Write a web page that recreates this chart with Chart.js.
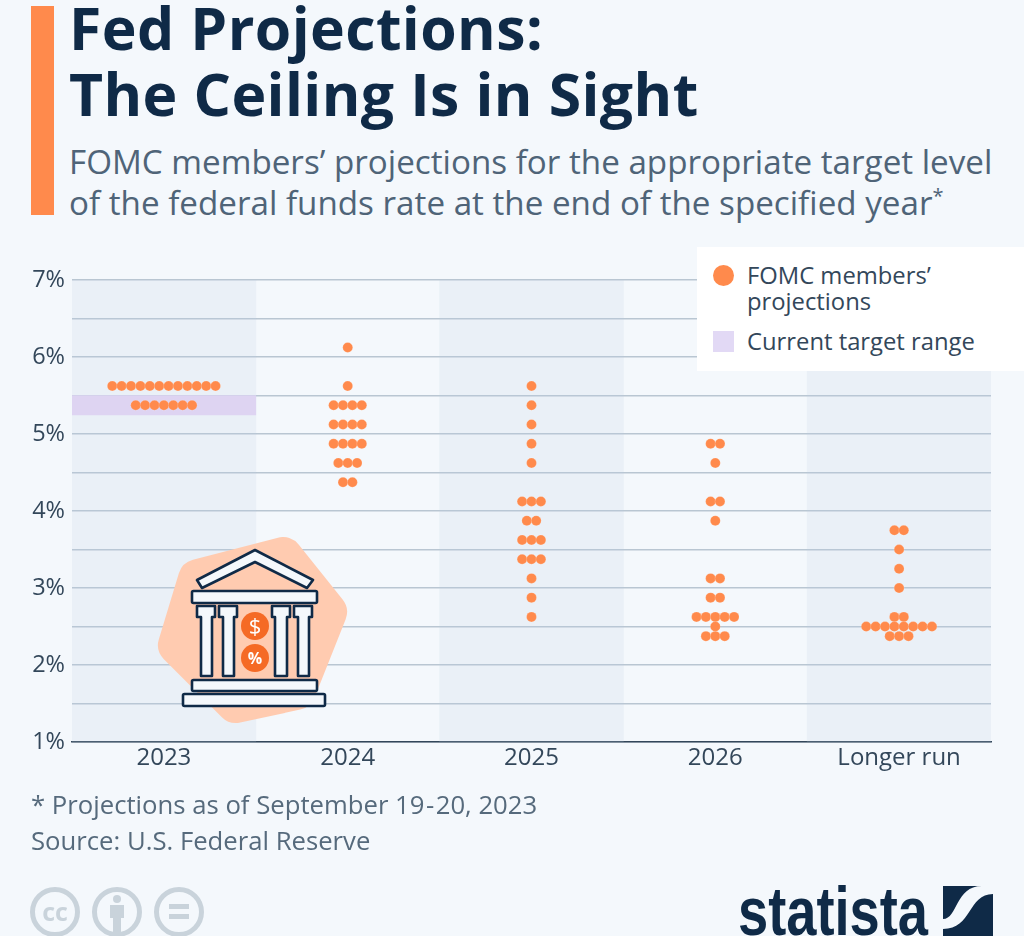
<!DOCTYPE html>
<html>
<head>
<meta charset="utf-8">
<script src="https://cdn.jsdelivr.net/npm/chart.js@4"></script>
<style>
    html, body { margin: 0; padding: 0; }
    body { width: 1024px; height: 936px; position: relative; overflow: hidden; background: #f4f8fc; font-family: "Open Sans", sans-serif; }
    .abs { position: absolute; white-space: nowrap; }
    #bar { left: 31px; top: 6px; width: 23px; height: 209px; background: #ff8a4c; }
    #title { left: 69px; top: -6px; font-size: 58.9px; line-height: 66px; font-weight: 700; color: #0f2a47; letter-spacing: 0.4px; }
    #subtitle { left: 69px; top: 141px; font-size: 33.2px; line-height: 41px; color: #4f6478; }
    #subtitle sup { font-size: 20px; line-height: 0; }
    #chartWrap { left: 0; top: 259px; width: 1024px; height: 523px; }
    #legend { left: 697px; top: 247px; width: 327px; height: 124px; background: #fff; color: #33475a; font-size: 23.8px; line-height: 26px; }
    #legend .dot { position: absolute; left: 16px; top: 18px; width: 21px; height: 21px; border-radius: 50%; background: #ff8a4c; }
    #legend .sq { position: absolute; left: 16px; top: 84px; width: 21px; height: 21px; background: #e2d9f5; }
    #legend .t1 { position: absolute; left: 50px; top: 15px; }
    #legend .t2 { position: absolute; left: 50px; top: 81px; }
    .foot { left: 31px; font-size: 25.7px; color: #566a7c; }
    svg.abs { left: 0; top: 0; }
</style>
</head>
<body>
<div id="bar" class="abs"></div>
<div id="title" class="abs">Fed Projections:<br>The Ceiling Is in Sight</div>
<div id="subtitle" class="abs">FOMC members’ projections for the appropriate target level<br>of the federal funds rate at the end of the specified year<sup>*</sup></div>

<div id="chartWrap" class="abs"><canvas id="dotChart" width="1024" height="523"></canvas></div>

<div id="legend" class="abs">
    <div class="dot"></div><div class="t1">FOMC members’<br>projections</div>
    <div class="sq"></div><div class="t2">Current target range</div>
</div>

<svg class="abs" width="1024" height="936" viewBox="0 0 1024 936">
    <!-- icone banque -->
    <polygon points="283,557 327,612 296,690 236,703 178,645 198,579" fill="#ffcbb0" stroke="#ffcbb0" stroke-width="40" stroke-linejoin="round"/>
    <g fill="#f4f8fc" stroke="#0f2a47" stroke-width="2.6" stroke-linejoin="round">
        <polygon points="197,580 255,550 313,580 307,588 255,562 202,588"/>
        <rect x="192" y="591" width="125" height="12" rx="1.5"/>
        <polygon points="197,606 215,606 215,617 212,617 212,676 201,676 201,617 197,617"/>
        <polygon points="219,606 237,606 237,617 234,617 234,676 223,676 223,617 219,617"/>
        <polygon points="272,606 290,606 290,617 287,617 287,676 275,676 275,617 272,617"/>
        <polygon points="294,606 312,606 312,617 309,617 309,676 298,676 298,617 294,617"/>
        <rect x="192" y="680" width="125" height="11" rx="1.5"/>
        <rect x="183" y="694" width="142" height="12" rx="1.5"/>
    </g>
    <circle cx="255" cy="626" r="14" fill="#f56a25"/>
    <circle cx="255" cy="658" r="14" fill="#f56a25"/>
    <text x="255" y="634" font-size="22" fill="#fff" text-anchor="middle" font-family="Open Sans">$</text>
    <text x="255" y="664" font-size="16" font-weight="700" fill="#fff" text-anchor="middle" font-family="Open Sans">%</text>

    <!-- licence CC -->
    <g fill="none" stroke="#c9d3db" stroke-width="5">
        <circle cx="55" cy="912" r="22.5"/>
        <circle cx="117" cy="912" r="22.5"/>
        <circle cx="179" cy="912" r="22.5"/>
    </g>
    <text x="55" y="921" font-size="25" font-weight="700" fill="#c9d3db" text-anchor="middle" font-family="Open Sans">cc</text>
    <g fill="#c9d3db">
        <circle cx="117" cy="899" r="4"/>
        <rect x="110" y="905" width="14" height="13"/>
        <rect x="113" y="918" width="8" height="14"/>
        <rect x="169" y="904" width="20" height="5"/>
        <rect x="169" y="914" width="20" height="5"/>
    </g>

    <!-- logo -->
    <text x="738" y="935" font-size="68" font-weight="700" fill="#0f2a47" font-family="Liberation Sans" textLength="190" lengthAdjust="spacingAndGlyphs">statista</text>
    <rect x="943" y="886" width="50" height="50" fill="#0f2a47"/>
    <path d="M993,886 V894 C968,894 972,929 943,929 V919 C958,919 955,886 982,886 Z" fill="#f4f8fc"/>
</svg>

<div class="abs foot" style="top: 787px;">* Projections as of September 19<span style="margin: 0 1.5px;">-</span>20, 2023</div>
<div class="abs foot" style="top: 823px;">Source: U.S. Federal Reserve</div>

<script>
const categories = ['2023', '2024', '2025', '2026', 'Longer run'];

// taux projetes et nombre de membres par taux
const levels2023 = [5.625, 5.375];
const counts2023 = [12, 7];
const levels2024 = [6.125, 5.625, 5.375, 5.125, 4.875, 4.625, 4.375];
const counts2024 = [1, 1, 4, 4, 4, 3, 2];
const levels2025 = [5.625, 5.375, 5.125, 4.875, 4.625, 4.125, 3.875, 3.625, 3.375, 3.125, 2.875, 2.625];
const counts2025 = [1, 1, 1, 1, 1, 3, 2, 3, 3, 1, 1, 1];
const levels2026 = [4.875, 4.625, 4.125, 3.875, 3.125, 2.875, 2.625, 2.5, 2.375];
const counts2026 = [2, 1, 2, 1, 2, 2, 5, 1, 3];
const levelsLonger = [3.75, 3.5, 3.25, 3.0, 2.625, 2.5, 2.375];
const countsLonger = [2, 1, 1, 1, 2, 8, 3];

const targetRange = [5.25, 5.5];
const yMin = 1;
const yMax = 7;

const dotStep = 0.0511; // ecart entre deux points, en unites de categorie

function buildDots(catIndex, levels, counts) {
    const pts = [];
    levels.forEach((level, i) => {
        for (let k = 0; k < counts[i]; k++) {
            pts.push({ x: catIndex + (k - (counts[i] - 1) / 2) * dotStep, y: level });
        }
    });
    return pts;
}

const dots = [].concat(
    buildDots(0, levels2023, counts2023),
    buildDots(1, levels2024, counts2024),
    buildDots(2, levels2025, counts2025),
    buildDots(3, levels2026, counts2026),
    buildDots(4, levelsLonger, countsLonger)
);

const ctx = document.getElementById('dotChart').getContext('2d');
new Chart(ctx, {
    type: 'bar',
    data: {
        labels: categories,
        datasets: [
            {
                type: 'scatter',
                label: 'FOMC members’ projections',
                data: dots,
                xAxisID: 'x2',
                backgroundColor: '#ff8a4c',
                borderColor: 'rgba(255,255,255,0.35)',
                borderWidth: 0.5,
                pointRadius: 5,
                order: 1
            },
            {
                label: 'Current target range',
                data: [targetRange, null, null, null, null],
                backgroundColor: '#ded4f2',
                grouped: false,
                barPercentage: 1,
                categoryPercentage: 1,
                order: 2
            },
            {
                label: 'bands',
                data: [[yMin, yMax], null, [yMin, yMax], null, [yMin, yMax]],
                backgroundColor: 'rgba(190,205,230,0.18)',
                grouped: false,
                barPercentage: 1,
                categoryPercentage: 1,
                order: 3
            }
        ]
    },
    options: {
        responsive: false,
        animation: false,
        layout: { padding: { top: 19, right: 33, left: 0, bottom: 0 } },
        plugins: { legend: { display: false }, tooltip: { enabled: false } },
        scales: {
            x: {
                grid: { display: false, drawTicks: false },
                border: { color: '#33475a', width: 1.5 },
                ticks: { color: '#33475a', font: { family: 'Open Sans', size: 24 }, padding: 2, maxRotation: 0 },
                afterFit: (scale) => { scale.height = 40; }
            },
            x2: { type: 'linear', min: -0.5, max: 4.5, offset: false, display: false },
            y: {
                min: yMin,
                max: yMax,
                grid: { color: '#b9c6d2', lineWidth: 1.4, drawTicks: false },
                border: { display: false },
                ticks: {
                    stepSize: 0.5,
                    autoSkip: false,
                    color: '#33475a',
                    font: { family: 'Open Sans', size: 23.5 },
                    padding: 7,
                    callback: (v) => (Number.isInteger(v) ? v + '%' : '')
                },
                afterFit: (scale) => { scale.width = 72; }
            }
        }
    }
});
</script>
</body>
</html>
